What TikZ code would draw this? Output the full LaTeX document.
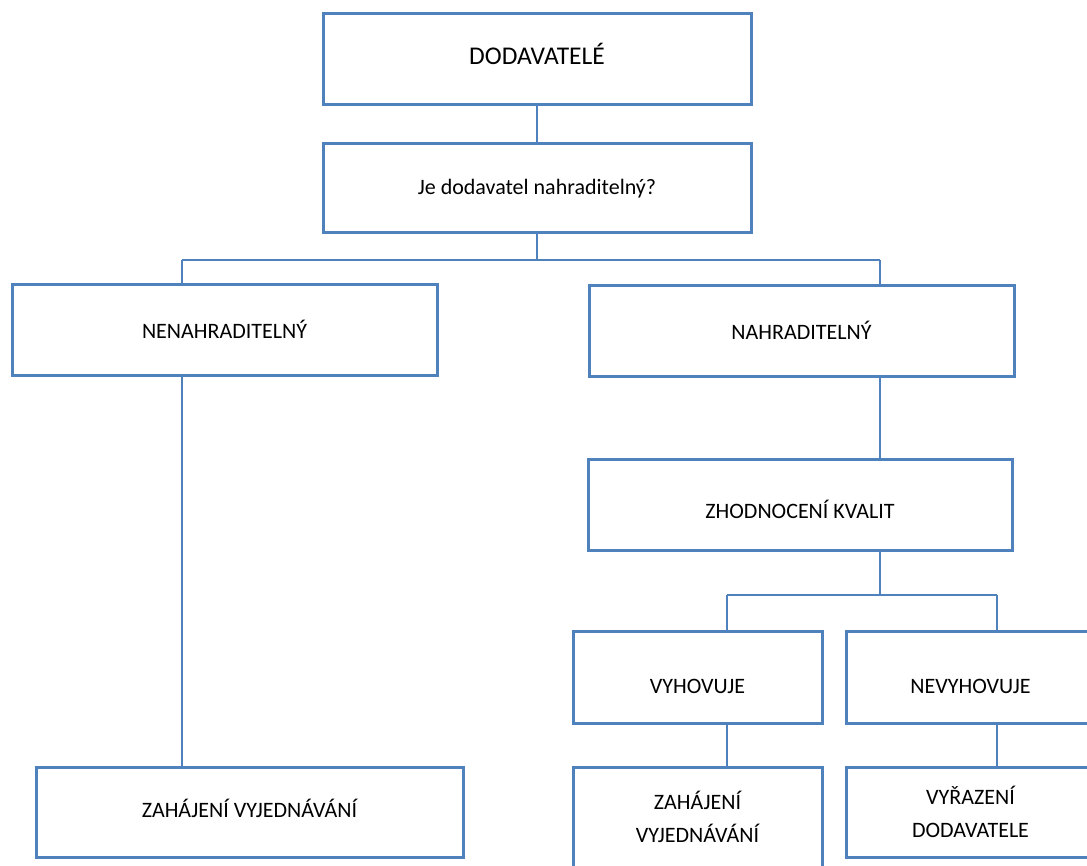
\documentclass[tikz,border=0pt]{standalone}
\usepackage{fontspec}
\setmainfont{Carlito}
\definecolor{boxblue}{RGB}{79,129,189}
\begin{document}
\begin{tikzpicture}[x=1pt,y=-1pt,
  box/.style={draw=boxblue,line width=3pt,fill=white,inner sep=0pt,
    minimum width=#1,align=center,font=\fontsize{22}{33}\selectfont},
  txt/.style={text height=#1,text depth=0pt},
  link/.style={draw=boxblue,line width=1.5pt}]
  \clip (0,0) rectangle (1087,866);
  \fill[white] (0,0) rectangle (1087,866);

  % boxes
  \node[box=428, minimum height=91, txt=9.4pt, font=\fontsize{25.5}{30}\selectfont]
    (dod) at (537,59.5) {DODAVATELÉ};
  \node[box=428, minimum height=89] (q) at (537,188.5) {Je dodavatel nahraditelný?};
  \node[box=425, minimum height=91, txt=17pt] (nen) at (224.5,330.5) {NENAHRADITELNÝ};
  \node[box=425, minimum height=91, txt=17pt] (nah) at (801.5,331.5) {NAHRADITELNÝ};
  \node[box=424, minimum height=91, txt=27pt] (zh) at (800,504.5) {ZHODNOCENÍ KVALIT};
  \node[box=249, minimum height=92, txt=32pt] (vyh) at (697.5,677) {VYHOVUJE};
  \node[box=249, minimum height=92, txt=32pt] (nevyh) at (970.5,677) {NEVYHOVUJE};
  \node[box=427, minimum height=90, txt=11pt] (zah1) at (249.5,812) {ZAHÁJENÍ VYJEDNÁVÁNÍ};
  \node[box=249, minimum height=100] (zah2) at (697.5,817) {ZAHÁJENÍ\\VYJEDNÁVÁNÍ};
  \node[box=249, minimum height=90] (vyr) at (970.5,812) {VYŘAZENÍ\\DODAVATELE};

  % branching points
  \coordinate (jl) at (182,260);
  \coordinate (jr) at (880,260);
  \coordinate (kl) at (727,595);
  \coordinate (kr) at (997,595);

  % connectors
  \draw[link] (dod) -- (q);
  \draw[link] (q.south) -- (q.south |- jl);
  \draw[link] (jl) -- (jr);
  \draw[link] (jl) -- (jl |- nen.north);
  \draw[link] (jr) -- (jr |- nah.north);
  \draw[link] (jl |- nen.south) -- (jl |- zah1.north);
  \draw[link] (jr |- nah.south) -- (jr |- zh.north);
  \draw[link] (jr |- zh.south) -- (jr |- kl);
  \draw[link] (kl) -- (kr);
  \draw[link] (kl) -- (kl |- vyh.north);
  \draw[link] (kr) -- (kr |- nevyh.north);
  \draw[link] (kl |- vyh.south) -- (kl |- zah2.north);
  \draw[link] (kr |- nevyh.south) -- (kr |- vyr.north);
\end{tikzpicture}
\end{document}
